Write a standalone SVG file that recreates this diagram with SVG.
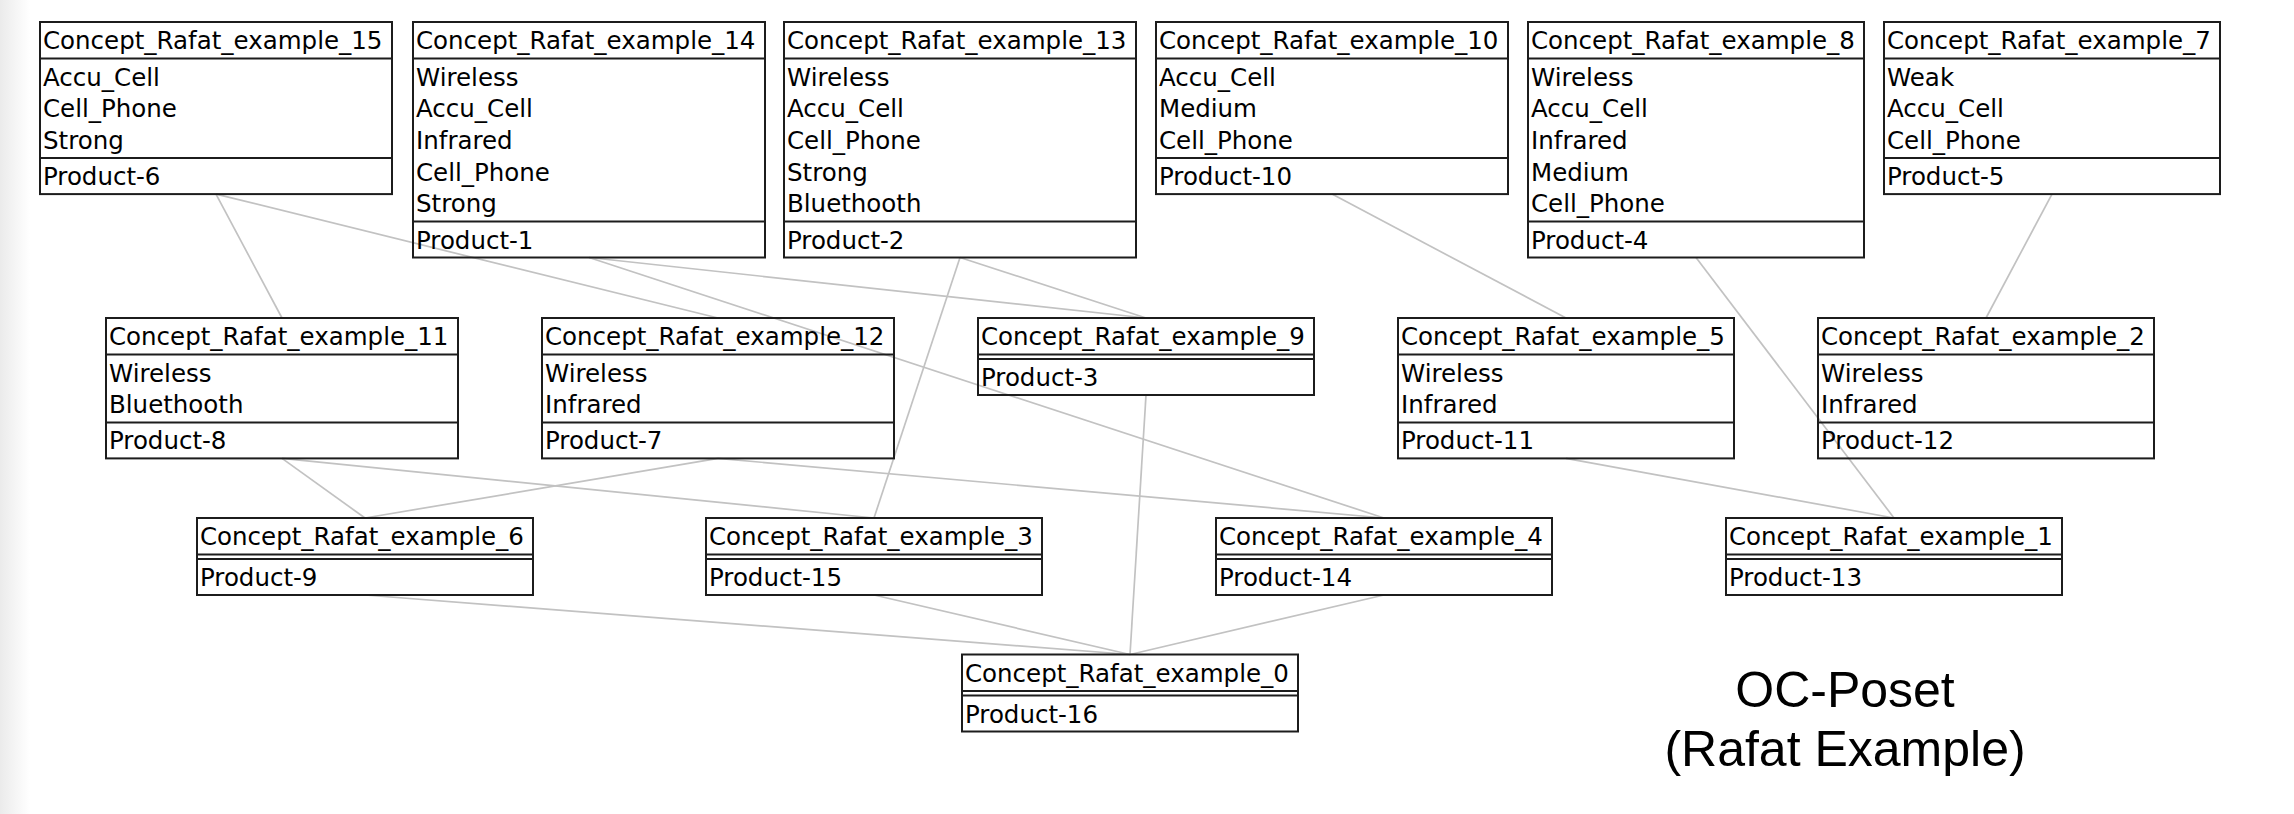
<svg xmlns="http://www.w3.org/2000/svg" width="2294" height="814" viewBox="0 0 2294 814">
<style>
.bg{fill:#ffffff}
.box{fill:none;stroke:#1c1c1c;stroke-width:2}
.sep{stroke:#1c1c1c;stroke-width:2}
.t{font-family:"DejaVu Sans",Verdana,sans-serif;font-size:24.5px;fill:#000}
.edge{stroke:#c2c2c2;stroke-width:1.7;fill:none}
.title{font-family:"Liberation Sans",Arial,Helvetica,sans-serif;font-size:50px;fill:#000;text-anchor:middle}
</style>
<defs>
<linearGradient id="lg" x1="0" y1="0" x2="1" y2="0">
<stop offset="0" stop-color="#ebebeb"/>
<stop offset="1" stop-color="#ffffff"/>
</linearGradient>
</defs>
<rect class="bg" x="0" y="0" width="2294" height="814"/>
<rect x="0" y="0" width="30" height="814" fill="url(#lg)"/>

<g id="connectors">
<line class="edge" x1="216" y1="194.1" x2="282" y2="318"/>
<line class="edge" x1="216" y1="194.1" x2="718" y2="318"/>
<line class="edge" x1="589" y1="257.5" x2="1146" y2="318"/>
<line class="edge" x1="589" y1="257.5" x2="1384" y2="518"/>
<line class="edge" x1="960" y1="257.5" x2="1146" y2="318"/>
<line class="edge" x1="960" y1="257.5" x2="874" y2="518"/>
<line class="edge" x1="1332" y1="194.1" x2="1566" y2="318"/>
<line class="edge" x1="1696" y1="257.5" x2="1894" y2="518"/>
<line class="edge" x1="2052" y1="194.1" x2="1986" y2="318"/>
<line class="edge" x1="282" y1="458.4" x2="365" y2="518"/>
<line class="edge" x1="282" y1="458.4" x2="874" y2="518"/>
<line class="edge" x1="718" y1="458.4" x2="365" y2="518"/>
<line class="edge" x1="718" y1="458.4" x2="1384" y2="518"/>
<line class="edge" x1="1146" y1="395" x2="1130" y2="654.5"/>
<line class="edge" x1="1566" y1="458.4" x2="1894" y2="518"/>
<line class="edge" x1="365" y1="595" x2="1130" y2="654.5"/>
<line class="edge" x1="874" y1="595" x2="1130" y2="654.5"/>
<line class="edge" x1="1384" y1="595" x2="1130" y2="654.5"/>
</g>

<g id="concept15">
<rect class="box" x="40" y="22" width="352" height="172.1"/>
<line class="sep" x1="40" y1="58.5" x2="392" y2="58.5"/>
<line class="sep" x1="40" y1="158.1" x2="392" y2="158.1"/>
<text class="t" x="43" y="49">Concept_Rafat_example_15</text>
<text class="t" x="43" y="85.5">Accu_Cell</text>
<text class="t" x="43" y="117.2">Cell_Phone</text>
<text class="t" x="43" y="148.9">Strong</text>
<text class="t" x="43" y="185.1">Product-6</text>
</g>

<g id="concept14">
<rect class="box" x="413" y="22" width="352" height="235.5"/>
<line class="sep" x1="413" y1="58.5" x2="765" y2="58.5"/>
<line class="sep" x1="413" y1="221.5" x2="765" y2="221.5"/>
<text class="t" x="416" y="49">Concept_Rafat_example_14</text>
<text class="t" x="416" y="85.5">Wireless</text>
<text class="t" x="416" y="117.2">Accu_Cell</text>
<text class="t" x="416" y="148.9">Infrared</text>
<text class="t" x="416" y="180.6">Cell_Phone</text>
<text class="t" x="416" y="212.3">Strong</text>
<text class="t" x="416" y="248.5">Product-1</text>
</g>

<g id="concept13">
<rect class="box" x="784" y="22" width="352" height="235.5"/>
<line class="sep" x1="784" y1="58.5" x2="1136" y2="58.5"/>
<line class="sep" x1="784" y1="221.5" x2="1136" y2="221.5"/>
<text class="t" x="787" y="49">Concept_Rafat_example_13</text>
<text class="t" x="787" y="85.5">Wireless</text>
<text class="t" x="787" y="117.2">Accu_Cell</text>
<text class="t" x="787" y="148.9">Cell_Phone</text>
<text class="t" x="787" y="180.6">Strong</text>
<text class="t" x="787" y="212.3">Bluethooth</text>
<text class="t" x="787" y="248.5">Product-2</text>
</g>

<g id="concept10">
<rect class="box" x="1156" y="22" width="352" height="172.1"/>
<line class="sep" x1="1156" y1="58.5" x2="1508" y2="58.5"/>
<line class="sep" x1="1156" y1="158.1" x2="1508" y2="158.1"/>
<text class="t" x="1159" y="49">Concept_Rafat_example_10</text>
<text class="t" x="1159" y="85.5">Accu_Cell</text>
<text class="t" x="1159" y="117.2">Medium</text>
<text class="t" x="1159" y="148.9">Cell_Phone</text>
<text class="t" x="1159" y="185.1">Product-10</text>
</g>

<g id="concept8">
<rect class="box" x="1528" y="22" width="336" height="235.5"/>
<line class="sep" x1="1528" y1="58.5" x2="1864" y2="58.5"/>
<line class="sep" x1="1528" y1="221.5" x2="1864" y2="221.5"/>
<text class="t" x="1531" y="49">Concept_Rafat_example_8</text>
<text class="t" x="1531" y="85.5">Wireless</text>
<text class="t" x="1531" y="117.2">Accu_Cell</text>
<text class="t" x="1531" y="148.9">Infrared</text>
<text class="t" x="1531" y="180.6">Medium</text>
<text class="t" x="1531" y="212.3">Cell_Phone</text>
<text class="t" x="1531" y="248.5">Product-4</text>
</g>

<g id="concept7">
<rect class="box" x="1884" y="22" width="336" height="172.1"/>
<line class="sep" x1="1884" y1="58.5" x2="2220" y2="58.5"/>
<line class="sep" x1="1884" y1="158.1" x2="2220" y2="158.1"/>
<text class="t" x="1887" y="49">Concept_Rafat_example_7</text>
<text class="t" x="1887" y="85.5">Weak</text>
<text class="t" x="1887" y="117.2">Accu_Cell</text>
<text class="t" x="1887" y="148.9">Cell_Phone</text>
<text class="t" x="1887" y="185.1">Product-5</text>
</g>

<g id="concept11">
<rect class="box" x="106" y="318" width="352" height="140.4"/>
<line class="sep" x1="106" y1="354.5" x2="458" y2="354.5"/>
<line class="sep" x1="106" y1="422.4" x2="458" y2="422.4"/>
<text class="t" x="109" y="345">Concept_Rafat_example_11</text>
<text class="t" x="109" y="381.5">Wireless</text>
<text class="t" x="109" y="413.2">Bluethooth</text>
<text class="t" x="109" y="449.4">Product-8</text>
</g>

<g id="concept12">
<rect class="box" x="542" y="318" width="352" height="140.4"/>
<line class="sep" x1="542" y1="354.5" x2="894" y2="354.5"/>
<line class="sep" x1="542" y1="422.4" x2="894" y2="422.4"/>
<text class="t" x="545" y="345">Concept_Rafat_example_12</text>
<text class="t" x="545" y="381.5">Wireless</text>
<text class="t" x="545" y="413.2">Infrared</text>
<text class="t" x="545" y="449.4">Product-7</text>
</g>

<g id="concept9">
<rect class="box" x="978" y="318" width="336" height="77"/>
<line class="sep" x1="978" y1="354.5" x2="1314" y2="354.5"/>
<line class="sep" x1="978" y1="359" x2="1314" y2="359"/>
<text class="t" x="981" y="345">Concept_Rafat_example_9</text>
<text class="t" x="981" y="386">Product-3</text>
</g>

<g id="concept5">
<rect class="box" x="1398" y="318" width="336" height="140.4"/>
<line class="sep" x1="1398" y1="354.5" x2="1734" y2="354.5"/>
<line class="sep" x1="1398" y1="422.4" x2="1734" y2="422.4"/>
<text class="t" x="1401" y="345">Concept_Rafat_example_5</text>
<text class="t" x="1401" y="381.5">Wireless</text>
<text class="t" x="1401" y="413.2">Infrared</text>
<text class="t" x="1401" y="449.4">Product-11</text>
</g>

<g id="concept2">
<rect class="box" x="1818" y="318" width="336" height="140.4"/>
<line class="sep" x1="1818" y1="354.5" x2="2154" y2="354.5"/>
<line class="sep" x1="1818" y1="422.4" x2="2154" y2="422.4"/>
<text class="t" x="1821" y="345">Concept_Rafat_example_2</text>
<text class="t" x="1821" y="381.5">Wireless</text>
<text class="t" x="1821" y="413.2">Infrared</text>
<text class="t" x="1821" y="449.4">Product-12</text>
</g>

<g id="concept6">
<rect class="box" x="197" y="518" width="336" height="77"/>
<line class="sep" x1="197" y1="554.5" x2="533" y2="554.5"/>
<line class="sep" x1="197" y1="559" x2="533" y2="559"/>
<text class="t" x="200" y="545">Concept_Rafat_example_6</text>
<text class="t" x="200" y="586">Product-9</text>
</g>

<g id="concept3">
<rect class="box" x="706" y="518" width="336" height="77"/>
<line class="sep" x1="706" y1="554.5" x2="1042" y2="554.5"/>
<line class="sep" x1="706" y1="559" x2="1042" y2="559"/>
<text class="t" x="709" y="545">Concept_Rafat_example_3</text>
<text class="t" x="709" y="586">Product-15</text>
</g>

<g id="concept4">
<rect class="box" x="1216" y="518" width="336" height="77"/>
<line class="sep" x1="1216" y1="554.5" x2="1552" y2="554.5"/>
<line class="sep" x1="1216" y1="559" x2="1552" y2="559"/>
<text class="t" x="1219" y="545">Concept_Rafat_example_4</text>
<text class="t" x="1219" y="586">Product-14</text>
</g>

<g id="concept1">
<rect class="box" x="1726" y="518" width="336" height="77"/>
<line class="sep" x1="1726" y1="554.5" x2="2062" y2="554.5"/>
<line class="sep" x1="1726" y1="559" x2="2062" y2="559"/>
<text class="t" x="1729" y="545">Concept_Rafat_example_1</text>
<text class="t" x="1729" y="586">Product-13</text>
</g>

<g id="concept0">
<rect class="box" x="962" y="654.5" width="336" height="77"/>
<line class="sep" x1="962" y1="691" x2="1298" y2="691"/>
<line class="sep" x1="962" y1="695.5" x2="1298" y2="695.5"/>
<text class="t" x="965" y="681.5">Concept_Rafat_example_0</text>
<text class="t" x="965" y="722.5">Product-16</text>
</g>

<g id="title">
<text class="title" x="1845" y="707">OC-Poset</text>
<text class="title" x="1845" y="766">(Rafat Example)</text>
</g>
</svg>
